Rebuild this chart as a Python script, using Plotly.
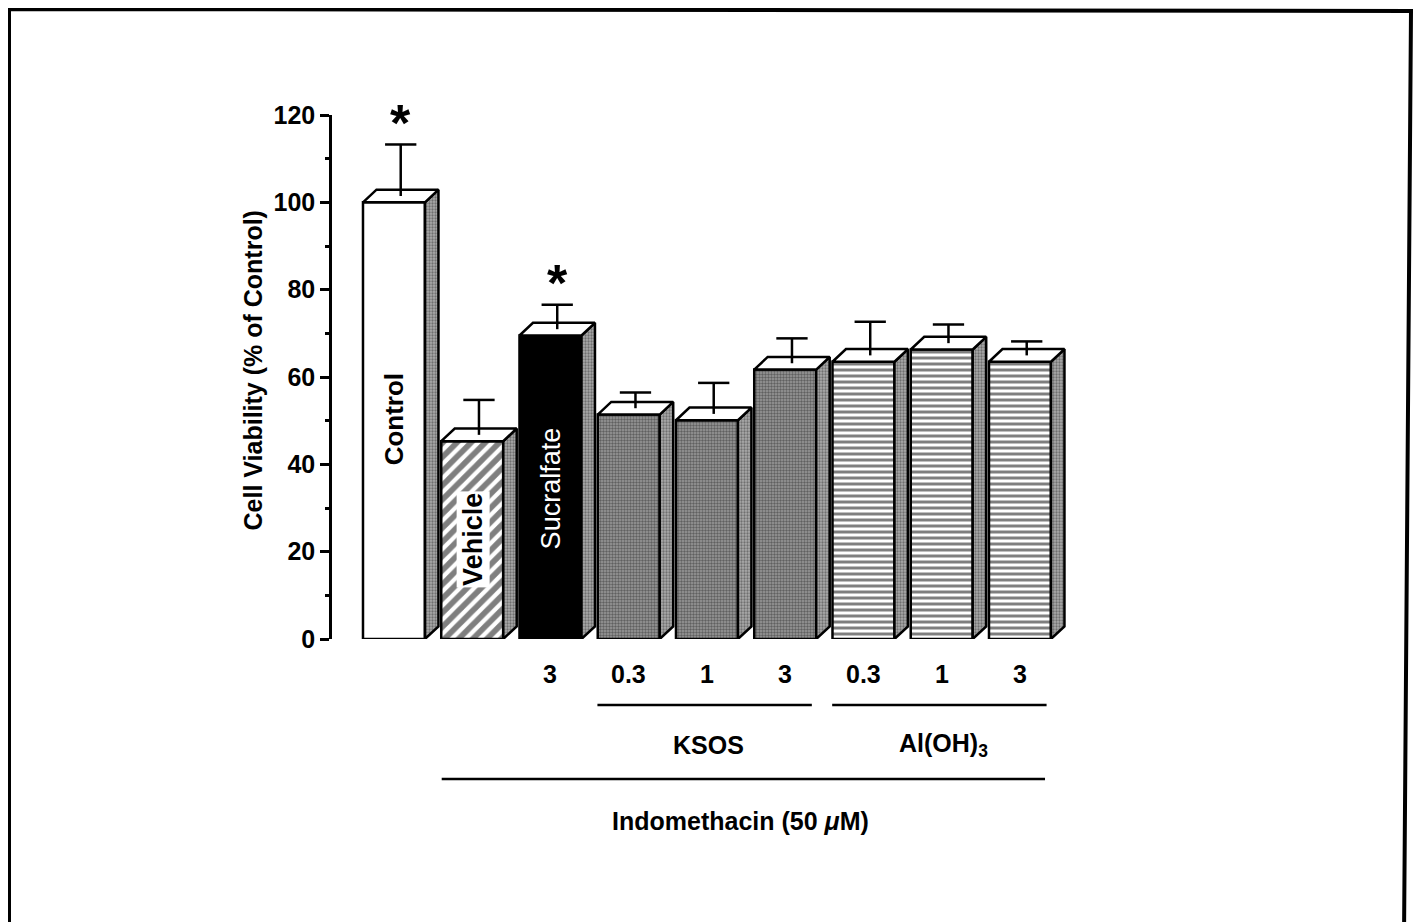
import plotly.graph_objects as go

# ---------------- data ----------------
categories = ["Control", "Vehicle", "Sucralfate", "KSOS 0.3", "KSOS 1", "KSOS 3",
              "Al(OH)3 0.3", "Al(OH)3 1", "Al(OH)3 3"]
groups = ["control", "vehicle", "sucralfate", "ksos", "ksos", "ksos", "aloh", "aloh", "aloh"]
dose_labels = ["", "", "3", "0.3", "1", "3", "0.3", "1", "3"]
viability = [100.0, 45.3, 69.5, 51.4, 50.1, 61.7, 63.5, 66.3, 63.5]
sem = [11.8, 8.0, 5.6, 3.6, 7.1, 5.7, 7.7, 4.3, 3.2]
significant = [True, False, True, False, False, False, False, False, False]
bar_text = ["Control", "Vehicle", "Sucralfate", "", "", "", "", "", ""]
y_ticks = [0, 20, 40, 60, 80, 100, 120]
group_spans = [("KSOS", 3, 5), ("Al(OH)<sub>3</sub>", 6, 8)]
treatment_span = ("Indomethacin (50 <i>μ</i>M)", 1, 8)
unit_label = "(mg/ml)"

# ---------------- layout geometry ----------------
OFF = 8                      # page body margin
W, H = 1422 - OFF, 922 - OFF
# plot area in window pixels
L_WIN, R_WIN, T_WIN, B_WIN = 332, 1075, 115, 639
L_PX, R_PX, T_PX, B_PX = L_WIN - OFF, R_WIN - OFF, T_WIN - OFF, B_WIN - OFF
PX_PER_X = 78.25
X0 = -0.792
X1 = X0 + (R_PX - L_PX) / PX_PER_X
BW = 0.792      # front face width
DX = 0.1725     # depth offset (x units)
DY = 2.9        # depth offset (y units)
FONT = "Liberation Sans, Arial, Helvetica, sans-serif"


def px_x(px):
    return (px - L_WIN) / (R_WIN - L_WIN)


def px_y(py):
    return (B_WIN - py) / (B_WIN - T_WIN)


def dx_paper(x):
    return (x - X0) / (X1 - X0)


styles = {
    "control": dict(color="white", pattern=dict(shape="")),
    "vehicle": dict(color="white", pattern=dict(shape="/", fgcolor="black", bgcolor="white",
                                                size=10, solidity=0.58)),
    "sucralfate": dict(color="black", pattern=dict(shape="")),
    "ksos": dict(color="#8c8c8c", pattern=dict(shape=".", fgcolor="#262626", bgcolor="#9a9a9a",
                                               size=3, solidity=0.5)),
    "aloh": dict(color="white", pattern=dict(shape="-", fgcolor="black", bgcolor="white",
                                             size=6, solidity=0.5)),
}

fig = go.Figure()

# front faces
for i, (g, v) in enumerate(zip(groups, viability)):
    st = styles[g]
    fig.add_trace(go.Bar(
        x=[i], y=[v], width=BW,
        marker=dict(color=st["color"], pattern=st["pattern"],
                    line=dict(color="black", width=2.5)),
        hoverinfo="skip", showlegend=False,
    ))

# side and top faces
for i, v in enumerate(viability):
    xl, xr = i - BW / 2, i + BW / 2
    fig.add_trace(go.Scatter(
        x=[xr, xr + DX, xr + DX, xr, xr], y=[0, DY, v + DY, v, 0],
        mode="lines", fill="toself", fillcolor="#a8a8a8",
        fillpattern=dict(shape=".", fgcolor="#333333", bgcolor="#aaaaaa", size=3, solidity=0.45),
        line=dict(color="black", width=2.5), hoverinfo="skip", showlegend=False,
    ))
    fig.add_trace(go.Scatter(
        x=[xl, xr, xr + DX, xl + DX, xl], y=[v, v, v + DY, v + DY, v],
        mode="lines", fill="toself", fillcolor="white",
        line=dict(color="black", width=2.5), hoverinfo="skip", showlegend=False,
    ))

# error bars (drawn in the mid-depth plane)
ex, ey = [], []
for i, (v, s) in enumerate(zip(viability, sem)):
    cx = i + DX / 2
    y0 = v + DY / 2
    ex += [cx, cx, None, cx - 0.2, cx + 0.2, None]
    ey += [y0, y0 + s, None, y0 + s, y0 + s, None]
fig.add_trace(go.Scatter(x=ex, y=ey, mode="lines", line=dict(color="black", width=2.5),
                         hoverinfo="skip", showlegend=False, cliponaxis=False))

annotations = []
# asterisks
for i, (v, s, sig) in enumerate(zip(viability, sem, significant)):
    if sig:
        annotations.append(dict(x=i + DX / 2, y=v + DY / 2 + s + 5.0, xref="x", yref="y",
                                text="*", showarrow=False, xanchor="center", yanchor="middle",
                                font=dict(family=FONT, size=52, color="black", weight="bold")))

# text inside bars
annotations.append(dict(x=0.0, y=50.3, xref="x", yref="y", text=bar_text[0], textangle=-90,
                        showarrow=False, xanchor="center", yanchor="middle",
                        font=dict(family=FONT, size=26, color="black", weight="bold")))
annotations.append(dict(x=1.01, y=22.7, xref="x", yref="y", text=bar_text[1], textangle=-90,
                        showarrow=False, bgcolor="white", borderpad=1,
                        xanchor="center", yanchor="middle",
                        font=dict(family=FONT, size=27, color="black", weight="bold")))
annotations.append(dict(x=2.0, y=34.6, xref="x", yref="y", text=bar_text[2], textangle=-90,
                        showarrow=False, xanchor="center", yanchor="middle",
                        font=dict(family=FONT, size=27, color="white")))

# dose labels
for i, lab in enumerate(dose_labels):
    if lab:
        annotations.append(dict(x=i, y=px_y(674), xref="x", yref="paper", text=lab,
                                showarrow=False, xanchor="center", yanchor="middle",
                                font=dict(family=FONT, size=25, color="black", weight="bold")))
annotations.append(dict(x=9.30, y=px_y(674), xref="x", yref="paper", text=unit_label,
                        showarrow=False, xanchor="center", yanchor="middle",
                        font=dict(family=FONT, size=25, color="black", weight="bold")))

shapes = []
for name, a, b in group_spans:
    x0, x1 = a - 0.4, b + 0.34
    shapes.append(dict(type="line", xref="paper", yref="paper",
                       x0=dx_paper(x0), x1=dx_paper(x1), y0=px_y(705), y1=px_y(705),
                       line=dict(color="black", width=2.5)))
    annotations.append(dict(x=(x0 + x1) / 2 + 0.05, y=px_y(745), xref="x", yref="paper", text=name,
                            showarrow=False, xanchor="center", yanchor="middle",
                            font=dict(family=FONT, size=25, color="black", weight="bold")))

name, a, b = treatment_span
x0, x1 = a - 0.39, b + 0.32
shapes.append(dict(type="line", xref="paper", yref="paper",
                   x0=dx_paper(x0), x1=dx_paper(x1), y0=px_y(779), y1=px_y(779),
                   line=dict(color="black", width=2.5)))
annotations.append(dict(x=(x0 + x1) / 2 - 0.04, y=px_y(821), xref="x", yref="paper", text=name,
                        showarrow=False, xanchor="center", yanchor="middle",
                        font=dict(family=FONT, size=25, color="black", weight="bold")))

# y-axis title
annotations.append(dict(x=px_x(253), y=61.5, xref="paper", yref="y",
                        text="Cell Viability (% of Control)", textangle=-90, showarrow=False,
                        xanchor="center", yanchor="middle",
                        font=dict(family=FONT, size=25, color="black", weight="bold")))

# outer frame (window coords converted to paper)
frame = "M {:.5f} {:.5f} L {:.5f} {:.5f} L {:.5f} {:.5f} L {:.5f} {:.5f}".format(
    px_x(9), px_y(940), px_x(9), px_y(9), px_x(1411), px_y(11), px_x(1404), px_y(940))
shapes.append(dict(type="path", xref="paper", yref="paper", path=frame,
                   line=dict(color="black", width=4)))

fig.update_layout(
    width=W, height=H,
    margin=dict(l=L_PX, r=W - R_PX, t=T_PX, b=H - B_PX, pad=0),
    paper_bgcolor="white", plot_bgcolor="white",
    showlegend=False, barmode="overlay",
    xaxis=dict(range=[X0, X1], visible=False, showgrid=False, zeroline=False),
    yaxis=dict(range=[0, 120], tickmode="array", tickvals=y_ticks,
               ticks="outside", ticklen=9, tickwidth=2.5, tickcolor="black",
               showline=True, linewidth=2.5, linecolor="black",
               showgrid=False, zeroline=False,
               tickfont=dict(family=FONT, size=25, color="black", weight="bold"),
               minor=dict(tickvals=[10, 30, 50, 70, 90, 110], ticks="outside", ticklen=4,
                          tickwidth=2.5, tickcolor="black", showgrid=False)),
    annotations=annotations, shapes=shapes,
)

fig.write_html("out.html")
